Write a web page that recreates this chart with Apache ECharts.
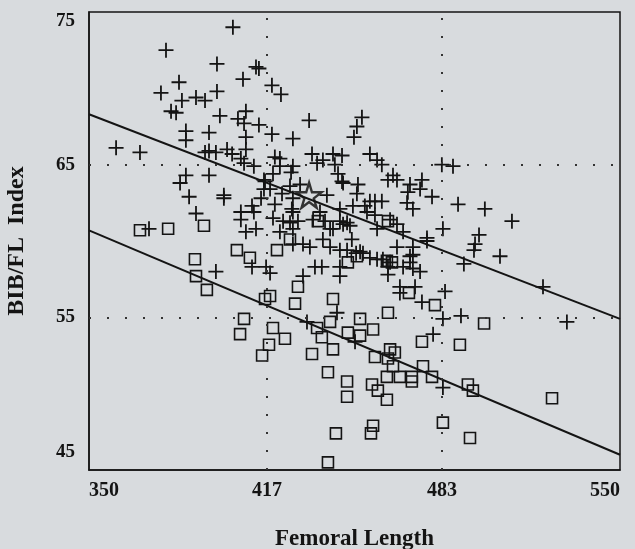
<!DOCTYPE html>
<html><head><meta charset="utf-8">
<script src="https://cdn.jsdelivr.net/npm/echarts@6/dist/echarts.min.js"></script>
<style>html,body{margin:0;padding:0;background:#d8dbde;} #c{width:635px;height:549px;}</style>
</head><body><div id="c"></div>
<script>
const xTicks = [350, 417, 483, 550];
const yTicks = [45, 55, 65, 75];
const xGuides = [417, 483];
const yGuides = [55, 65];
const xName = 'Femoral Length';
const yName = 'BIB/FL  Index';

// "+" group
const plusX = [404.2,379.0,398.2,412.9,414.0,408.0,383.9,377.1,398.2,385.0,390.3,393.7,380.9,382.8,399.3,409.1,406.1,408.4,414.0,386.5,
386.5,395.2,409.1,360.2,369.2,393.7,395.2,397.8,402.0,403.9,409.1,407.2,408.4,412.1,386.5,384.3,395.2,387.7,400.8,400.8,
390.3,407.2,407.2,411.4,412.1,409.1,412.9,415.9,415.9,414.8,372.6,418.9,422.3,432.9,418.9,426.8,452.8,450.9,449.8,420.0,
421.9,421.9,419.3,426.8,426.1,434.0,435.9,438.1,441.9,445.3,442.6,443.8,445.3,455.8,458.5,460.3,451.3,450.9,464.5,462.6,
466.0,470.9,470.1,475.4,474.7,479.2,439.6,416.3,418.2,420.0,422.7,425.7,429.5,426.8,426.4,469.8,472.0,455.8,457.7,460.3,
453.9,454.7,449.4,444.5,444.5,445.7,437.0,434.4,438.9,440.8,423.1,425.7,428.7,426.8,457.7,463.4,458.5,466.0,468.3,477.3,
448.3,445.7,419.3,426.8,421.9,441.9,447.2,482.9,487.1,489.0,499.1,509.3,483.3,496.9,495.4,495.0,504.8,491.2,521.0,484.1,
483.3,490.1,530.0,479.6,483.3,397.8,411.4,416.7,430.6,435.1,437.7,444.5,444.5,443.4,432.1,450.2,467.1,467.1,472.8,475.4,
462.6,462.6,468.3,472.0,474.7,458.5,455.8,453.2,470.9,472.0,472.0,466.0,477.3,433.2,438.1,440.8,444.5,447.2,449.0,452.1,
426.8,430.6,460.7,463.4,470.9,450.6,418.2];
const plusY = [74.0,72.5,71.6,71.4,71.3,70.6,70.4,69.7,69.8,69.2,69.4,69.2,68.5,68.4,68.2,68.5,68.0,67.7,67.6,67.2,
66.6,67.1,66.8,66.1,65.8,65.8,65.9,65.8,66.0,65.7,66.0,65.4,65.1,64.9,64.3,63.8,64.3,62.9,63.0,62.8,
61.8,61.9,61.4,62.3,61.9,60.6,60.8,64.0,63.4,62.8,60.8,70.2,69.6,67.9,67.0,66.7,68.1,67.5,66.8,65.5,
65.4,64.9,64.4,64.9,64.5,65.7,65.1,65.3,65.7,65.6,65.0,64.4,63.9,65.7,65.3,65.0,63.7,63.1,64.3,64.0,
64.0,63.7,63.2,64.0,63.4,62.9,63.0,63.9,63.4,62.4,63.1,63.6,63.7,62.8,62.1,62.5,62.1,62.6,62.6,62.6,
62.3,61.9,62.3,62.1,61.3,61.1,61.9,61.4,61.3,60.8,61.3,61.2,61.3,60.8,61.7,61.4,60.8,61.1,60.6,60.2,
61.0,63.8,61.5,61.9,60.6,60.8,61.2,65.0,64.9,62.4,62.1,61.3,60.8,60.4,59.8,59.4,59.0,58.5,57.0,56.7,
54.9,55.1,54.7,53.9,50.4,58.0,58.3,58.3,57.7,58.3,58.3,58.3,57.7,55.3,54.7,53.4,57.0,56.6,57.0,56.0,
58.3,57.8,58.3,58.2,58.0,58.8,58.9,59.2,59.0,59.6,59.1,59.6,60.0,59.6,60.1,59.6,59.4,59.4,60.1,59.3,
59.8,59.8,58.8,58.6,58.6,59.2,57.9];

// square group
const squareX = [369.2,379.8,393.3,405.7,410.6,389.9,390.3,394.4,416.3,418.2,408.4,406.9,417.8,415.2,420.8,425.7,447.5,450.9,462.2,464.1,
428.7,427.6,441.9,470.5,480.3,462.6,452.1,440.8,419.3,423.8,435.9,437.7,441.9,447.5,452.1,457.0,434.0,457.7,463.4,465.2,
462.6,464.5,475.4,440.0,447.2,447.2,456.6,458.8,462.2,462.2,467.1,471.6,471.6,475.8,479.2,443.0,457.0,456.2,440.0,498.8,
489.7,492.7,494.6,524.4,483.3,493.5,436.2,462.6];
const squareY = [60.7,60.8,61.0,59.4,58.9,58.8,57.7,56.8,56.2,56.4,54.9,53.9,53.2,52.5,59.4,60.1,58.6,59.0,58.7,58.6,
57.0,55.9,56.2,56.6,55.8,55.3,54.9,54.7,54.3,53.6,54.3,53.7,52.9,54.0,53.8,54.2,52.6,52.4,52.9,52.7,
52.3,51.8,53.4,51.4,50.8,49.8,50.6,50.2,49.6,51.1,51.1,51.1,50.8,51.8,51.1,47.4,47.9,47.4,45.5,54.6,
53.2,50.6,50.2,49.7,48.1,47.1,61.3,61.3];

// mean (star)
const starX = [432.9];
const starY = [63.0];

// regression lines (end points at the axis limits)
const upperLineX = [350, 550];
const upperLineY = [68.3, 54.9];
const lowerLineX = [350, 550];
const lowerLineY = [60.7, 46.0];

const zip = (a, b) => a.map((v, i) => [v, b[i]]);
const FONT = "'Liberation Serif','Times New Roman',serif";
const INK = '#141414';

const chart = echarts.init(document.getElementById('c'), null, {renderer: 'canvas'});
chart.setOption({
  backgroundColor: '#d8dbde',
  animation: false,
  grid: {left: 89, right: 15, top: 12, bottom: 79, outerBoundsMode: 'none', containLabel: false,
    show: true, borderColor: INK, borderWidth: 1.5, backgroundColor: 'transparent'},
  xAxis: {
    type: 'value', min: 350, max: 550,
    name: xName, nameLocation: 'middle', nameGap: 58,
    nameTextStyle: {fontFamily: FONT, fontWeight: 'bold', fontSize: 23, color: INK},
    axisLine: {show: true, lineStyle: {color: INK, width: 1.5}},
    axisTick: {show: false},
    splitLine: {show: false},
    axisLabel: {customValues: xTicks, fontFamily: FONT, fontWeight: 'bold', fontSize: 20, color: INK, margin: 11,
      alignMinLabel: 'left', alignMaxLabel: 'right'}
  },
  yAxis: {
    type: 'value', min: 45, max: 75,
    name: yName, nameLocation: 'middle', nameGap: 60, nameRotate: 90,
    nameTextStyle: {fontFamily: FONT, fontWeight: 'bold', fontSize: 24, color: INK},
    axisLine: {show: true, lineStyle: {color: INK, width: 1.5}},
    axisTick: {show: false},
    splitLine: {show: false},
    axisLabel: {customValues: yTicks, fontFamily: FONT, fontWeight: 'bold', fontSize: 19, color: INK, margin: 14,
      verticalAlignMinLabel: 'bottom', verticalAlignMaxLabel: 'top',
      formatter: v => v === 45 ? '{lo|45}' : String(v),
      rich: {lo: {fontFamily: FONT, fontWeight: 'bold', fontSize: 19, color: INK, padding: [0, 0, 8, 0]}}}
  },
  series: [
    {
      type: 'line', data: zip(upperLineX, upperLineY), symbol: 'none', silent: true,
      lineStyle: {color: INK, width: 2},
      markLine: {
        silent: true, symbol: 'none', label: {show: false},
        lineStyle: {color: '#333', width: 2, type: [2, 16]},
        data: xGuides.map(v => ({xAxis: v})).concat(yGuides.map(v => ({yAxis: v})))
      }
    },
    {type: 'line', data: zip(lowerLineX, lowerLineY), symbol: 'none', silent: true, lineStyle: {color: INK, width: 2}},
    {
      type: 'scatter', data: zip(squareX, squareY), symbol: 'rect', symbolSize: 11,
      itemStyle: {color: 'transparent', borderColor: INK, borderWidth: 1.6, opacity: 1}
    },
    {
      type: 'scatter', data: zip(plusX, plusY), symbol: 'path://M0,7L14,7M7,0L7,14', symbolSize: 15,
      itemStyle: {color: 'transparent', borderColor: INK, borderWidth: 1.8, opacity: 1}
    },
    {
      type: 'scatter', data: zip(starX, starY),
      symbol: 'path://M50,0L61,35L98,35L68,57L79,91L50,70L21,91L32,57L2,35L39,35Z', symbolSize: 25,
      itemStyle: {color: 'transparent', borderColor: '#333', borderWidth: 2.4, opacity: 1}
    }
  ]
});
</script></body></html>
